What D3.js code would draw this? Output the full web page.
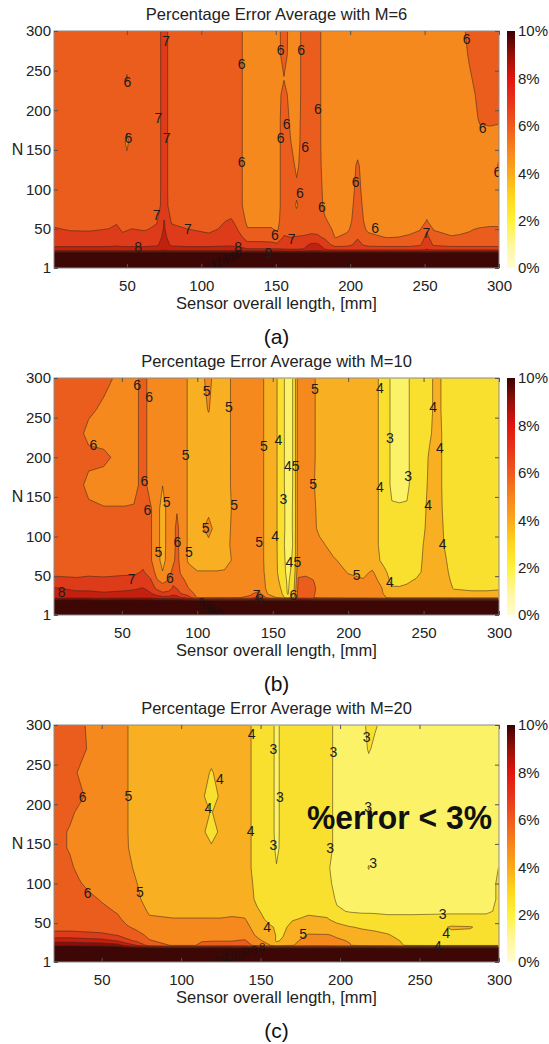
<!DOCTYPE html>
<html>
<head>
<meta charset="utf-8">
<script src="https://cdn.jsdelivr.net/npm/d3@7/dist/d3.min.js"></script>
<style>
html,body{margin:0;padding:0;background:#fff;}
svg{display:block;}
text{font-family:"Liberation Sans",Arial,Helvetica,sans-serif;}
</style>
</head>
<body>
<svg id="fig" width="549" height="1044"></svg>
<script>
// ---------- shared data ----------
const levels = [0,1,2,3,4,5,6,7,8,9,10];
const bandColors = ["#fffbd0","#fdf7a0","#fcf267","#f9df2e","#f8b022","#f6891e","#eb5d1d","#dd3b19","#c4200f","#8e0c07","#3c0705"];
const cbarStops = [[0,"#fffcd2"],[1,"#fff79a"],[2,"#fff23a"],[3,"#ffd61c"],[4,"#fbaa1a"],[5,"#f7831c"],[6,"#f05a1c"],[7,"#e83418"],[8,"#e0140e"],[9,"#961008"],[10,"#3a0202"]];
const cbarTicks = [0,2,4,6,8,10];
const xTicks = [50,100,150,200,250,300];
const yTicks = [1,50,100,150,200,250,300];
const xTitle = "Sensor overall length, [mm]";
const yTitle = "N";

// ---------- panel (a) M=6 ----------
const titleA = "Percentage Error Average with M=6";
const xA = [1,12,25,38,43,47,50,53,62,70,75,80,90,105,120,124,131,140,147,151,155.5,160,164,169,174,178,183,190,198,205,212,225,240,247,251.5,256,268,274,280,287,294,300];
const nA = [1,20,24,30,40,50,60,80,100,130,160,190,220,240,270,300];
const zA = [
[20,20,20,20,20,20,20,20,20,20,20,20,20,20,20,20,20,20,20,20,20,20,20,20,20,20,20,20,20,20,20,20,20,20,20,20,20,20,20,20,20,20],
[10.5,10.5,10.5,10.5,10.5,10.5,10.5,10.5,10.5,10.5,10.5,10.5,10.5,10.5,10.5,10.5,10.5,10.5,10.5,10.5,10.5,10.5,10.5,10.5,10.5,10.5,10.5,10.5,10.5,10.5,10.5,10.5,10.5,10.5,10.5,10.5,10.5,10.5,10.5,10.5,10.5,10.5],
[8.4,8.4,8.4,8.4,8.4,8.4,8.4,8.4,8.4,8.4, 8.8,8.4,8.4,8.4,8.4,8.4,8.2,8.2,8.2,8.2, 8.05,8.05,8.05,8.05,8.4,8.4,8.05,7.9,7.9,7.9, 7.9,7.9,7.9,7.9,8.05,7.9,7.9,7.9,7.9,7.9, 7.9,7.9],
[7.8,7.8,7.8,7.8,7.9,7.8,7.8,7.8,7.8,7.9, 8.3,7.9,7.8,7.8,7.9,7.8,7.3,7.3,7.3,7.2, 7.7,7.6,7.6,7.8,8.2,8.2,7.6,6.6,6.7,7.3, 6.7,6.6,6.6,6.9,7.7,6.9,6.6,6.6,6.6,6.6, 6.6,6.6],
[7.4,7.4,7.3,7.4,7.5,7.3,7.4,7.4,7.4,7.6, 8.2,7.6,7.4,7.2,7.5,7.4,6.6,6.6,6.5,6.3, 7.1,6.98,7.05,7.1,7.3,7.2,6.8,5.95,6.2,6.9, 6.2,5.95,6.05,6.3,7.3,6.3,6.02,6.05,6.1,6.2, 6.3,6.3],
[7.1,6.9,6.9,7.02,7.3,6.8,6.9,7.02,6.9,7.2, 8.1,7.2,7.02,6.8,7.3,7.02,6.05,6.05,6.05,5.9, 6.6,6.5,6.5,6.6,6.6,6.6,6.3,5.85,5.85,6.5, 5.85,5.85,5.9,5.95,6.8,5.95,5.9,5.9,5.95,6.05, 6.1,6.1],
[6.7,6.7,6.7,6.7,6.8,6.7,6.7,6.7,6.7,6.9, 8.05,6.9,6.7,6.7,7.1,6.8,5.8,5.8,5.8,5.7, 6.6,6.5,6.4,6.5,6.6,6.5,6.1,5.7,5.7,6.4, 5.7,5.7,5.7,5.75,6.03,5.75,5.7,5.7,5.7,5.75, 5.8,5.8],
[6.5,6.5,6.5,6.5,6.5,6.5,6.5,6.5,6.5,6.6, 7.4,6.6,6.5,6.5,6.5,6.5,5.5,5.5,5.5,5.5, 6.6,6.5,5.9,6.5,6.6,6.5,5.8,5.5,5.6,6.3, 5.6,5.5,5.5,5.5,5.75,5.5,5.5,5.5,5.5,5.5, 5.5,5.5],
[6.5,6.5,6.5,6.5,6.5,6.5,6.5,6.5,6.5,6.55, 7.4,6.55,6.5,6.5,6.5,6.5,5.5,5.5,5.5,5.5, 6.6,6.5,6.2,6.5,6.6,6.5,5.7,5.5,5.55,6.2, 5.55,5.5,5.5,5.5,5.5,5.5,5.5,5.5,5.5,5.5, 5.5,5.6],
[6.5,6.5,6.5,6.5,6.5,6.5,6.5,6.5,6.5,6.55, 7.4,6.55,6.5,6.5,6.5,6.5,5.5,5.5,5.5,5.5, 6.6,6.4,5.8,6.5,6.6,6.4,5.6,5.5,5.5,6.1, 5.5,5.5,5.5,5.5,5.5,5.5,5.5,5.5,5.5,5.5, 5.5,6.1],
[6.5,6.5,6.5,6.5,6.5,6.5,5.7,6.5,6.5,6.55, 7.4,6.55,6.5,6.5,6.5,6.5,5.5,5.5,5.5,5.5, 6.6,6.02,5.6,6.5,6.6,6.4,5.5,5.5,5.5,5.7, 5.5,5.5,5.5,5.5,5.5,5.5,5.5,5.5,5.5,5.7, 5.6,5.7],
[6.5,6.5,6.5,6.5,6.5,6.5,6.5,6.5,6.5,6.55, 7.4,6.55,6.5,6.5,6.5,6.5,5.5,5.5,5.5,5.5, 6.6,5.8,5.5,6.5,6.6,6.4,5.5,5.5,5.5,5.5, 5.5,5.5,5.5,5.5,5.5,5.5,5.5,5.5,5.5,6.1, 6.2,6.1],
[6.5,6.5,6.5,6.5,6.5,6.5,6.5,6.5,6.5,6.55, 7.4,6.55,6.5,6.5,6.5,6.5,5.5,5.5,5.5,5.5, 6.4,5.6,5.4,6.5,6.6,6.4,5.5,5.5,5.5,5.5, 5.5,5.5,5.5,5.5,5.5,5.5,5.5,5.5,5.6,6.3, 6.4,6.4],
[6.5,6.5,6.5,6.5,6.5,6.5,5.9,6.5,6.5,6.55, 7.4,6.55,6.5,6.5,6.5,6.5,5.5,5.5,5.5,5.5, 5.95,5.5,5.4,6.5,6.6,6.4,5.5,5.5,5.5,5.5, 5.5,5.5,5.5,5.5,5.5,5.5,5.5,5.5,5.85,6.4, 6.5,6.5],
[6.5,6.5,6.5,6.5,6.5,6.5,6.5,6.5,6.5,6.55, 7.4,6.55,6.5,6.5,6.5,6.5,5.5,5.5,5.5,5.5, 6.5,5.5,5.4,6.5,6.6,6.4,5.5,5.5,5.5,5.5, 5.5,5.5,5.5,5.5,5.5,5.5,5.5,5.5,6.1,6.5, 6.5,6.5],
[6.5,6.5,6.5,6.5,6.5,6.5,6.5,6.5,6.5,6.55, 7.4,6.55,6.5,6.5,6.5,6.5,5.5,5.5,5.5,5.5, 6.6,5.5,5.4,6.5,6.6,6.4,5.5,5.5,5.5,5.5, 5.5,5.5,5.5,5.5,5.5,5.5,5.5,5.5,6.4,6.5, 6.5,6.5]
];
const labelsA = [
[76.3,288,"7"],[50.3,236,"6"],[71.2,190,"7"],[51,165,"6"],[76.7,165,"7"],[127,258,"6"],[127,135,"6"],[70,68,"7"],[90.9,50,"7"],[57.6,27,"8"],[124.8,28,"8"],[145,20,"9"],
[153.3,276,"6"],[167.1,276,"6"],[178.3,202,"6"],[157.3,183,"6"],[153.3,165,"6"],[169.7,154,"6"],[203.6,110,"6"],[166.3,95,"6"],[181,78,"6"],[149.5,43,"6"],[160.7,38,"7"],[216.7,51,"6"],[251.2,45,"7"],[278.3,290,"6"],[289,177,"6"],[299,122,"6"]
];
const crowdA = [[106,4,"12"],[110,7,"11"],[114,10,"10"],[118,13,"10"],[122,16,"9"],[125,19,"9"]];

// ---------- panel (b) M=10 ----------
const titleB = "Percentage Error Average with M=10";
const xB = [5,20,28,38,52,58,64,69,73,77,81,84,86.5,89,94,100,107.5,113,118,126,135,141,147,152,156,160,164,167,172,176,181,190,200,210,216,224,229,234,239,245,250,254,259,264,270,282,292,300];
const nB = [1,19,23,28,35,45,55,70,90,110,135,165,200,230,260,300];
const zB = [
[20,20,20,20,20,20,20,20,20,20,20,20,20,20,20,20,20,20,20,20,20,20,20,20,20,20,20,20,20,20,20,20,20,20,20,20,20,20,20,20,20,20,20,20,20,20,20,20],
[10.5,10.5,10.5,10.5,10.5,10.5,10.5,10.5,10.5,10.5,10.5,10.5,10.5,10.5,10.5,10.5,10.5,10.5,10.5,10.5,10.5,10.5,10.5,10.5,10.5,10.5,10.5,10.5,10.5,10.5,10.5,10.5,10.5,10.5,10.5,10.5,10.5,10.5,10.5,10.5,10.5,10.5,10.5,10.5,10.5,10.5,10.5,10.5],
[8.7,8.7,8.7,8.6,8.7,8.7,8.8,8.7,8.5,8.3, 8.3,8.5,8.4,8.02,7.5,5.9,5.9,5.9,5.9,5.95, 6.1,7.5,5.5,5.02,4.5,3.3,5.02,6.3,6.3,6.1, 5.7,5.6,5.5,5.5,5.4,5.1,4.6,4.6,4.6,4.6, 4.6,4.6,4.6,4.5,4.5,4.4,4.4,4.4],
[8.3,8.2,8.2,8.1,8.2,8.2,8.3,8.1,7.6,7.2, 7.3,7.7,7.5,7.02,6.5,5.7,5.7,5.7,5.7,5.8, 5.9,6.2,4.9,4.3,4.05,2.9,4.02,6.5,6.4,6.2, 5.7,5.6,5.4,5.4,5.4,4.95,4.4,4.4,4.4,4.4, 4.4,4.5,4.5,4.4,4.2,4.1,4.1,4.1],
[8.05,7.8,7.8,7.7,7.8,7.9,8.02,7.6,6.8,6.4, 6.6,7.1,6.95,6.6,6.02,5.5,5.5,5.5,5.5,5.7, 5.7,5.7,4.7,4.4,3.9,2.85,3.8,6.4,6.4,6.2, 5.8,5.7,5.4,5.3,5.4,4.9,4.1,4.05,4.1,4.3, 4.3,4.4,4.4,4.35,3.95,3.9,3.9,3.95],
[7.2,7.1,7.2,7.2,7.3,7.3,7.6,7.1,6.1,5.7, 6.02,6.8,6.6,6.3,5.7,5.3,5.3,5.3,5.4,5.6, 5.6,5.7,4.6,4.3,3.7,2.8,3.6,6.1,6.2,6.05, 5.8,5.6,5.2,5.05,5.3,4.6,3.7,3.8,3.9,4.05, 4.2,4.35,4.4,4.3,3.8,3.8,3.95,3.8],
[6.8,6.8,6.8,6.7,6.8,6.8,7.1,6.6,5.7,5.05, 5.6,6.3,6.5,5.9,5.3,5.05,5.05,5.05,5.1,5.5, 5.5,5.6,4.5,4.2,3.5,2.7,3.4,5.8,5.8,5.6, 5.6,5.4,4.95,4.8,5.1,4.2,3.6,3.6,3.6,3.8, 4.1,4.3,4.4,4.2,3.7,3.6,3.8,3.7],
[6.5,6.5,6.5,6.5,6.5,6.5,6.7,6.1,5.5,4.6, 5.5,5.8,6.3,5.7,4.9,4.6,4.6,4.6,4.6,5.3, 5.5,5.5,4.5,4.2,3.4,2.65,3.2,5.6,5.6,5.4, 5.5,5.1,4.7,4.6,4.5,3.7,3.5,3.5,3.5,3.6, 4.1,4.3,4.4,4.1,3.6,3.5,3.5,3.6],
[6.4,6.4,6.4,6.4,6.4,6.4,6.4,6.1,5.5,4.5, 5.5,5.6,6.3,5.6,4.9,4.5,4.7,4.5,4.6,5.5, 5.5,5.5,4.5,4.2,3.3,2.6,3.1,5.6,5.6,5.3, 5.2,4.7,4.5,4.5,4.4,3.6,3.5,3.5,3.5,3.6, 4.02,4.3,4.4,3.95,3.6,3.5,3.5,3.6],
[6.4,6.4,6.4,6.4,6.4,6.4,6.4,6.1,5.5,4.5, 5.5,5.6,6.3,5.6,4.9,4.5,5.4,4.5,4.6,5.4, 5.5,5.5,4.5,4.2,3.3,2.7,3.1,5.6,5.6,5.3, 4.8,4.5,4.5,4.5,4.4,3.6,3.5,3.5,3.5,3.6, 3.9,4.3,4.4,3.9,3.6,3.5,3.5,3.6],
[6.4,6.4,6.2,6.05,6.05,6.1,6.4,6.1,5.5,4.5, 5.5,5.6,5.9,5.6,4.9,4.5,4.7,4.5,4.6,5.3, 5.5,5.5,4.5,4.2,3.3,2.7,3.1,5.6,5.6,5.3, 4.7,4.5,4.5,4.5,4.4,3.6,3.1,3.1,3.1,3.6, 3.8,4.3,4.4,3.8,3.6,3.5,3.5,3.6],
[6.4,6.4,5.7,5.6,5.6,5.6,6.4,5.6,5.5,5.02, 5.5,5.6,5.6,5.6,4.9,4.5,4.5,4.5,4.5,5.5, 5.5,5.5,4.5,4.2,3.3,2.6,3.1,5.6,5.6,5.2, 4.6,4.5,4.5,4.5,4.4,3.6,2.8,2.7,2.8,3.6, 3.7,4.2,4.3,3.8,3.6,3.5,3.5,3.6],
[6.4,6.4,6.3,6.2,5.6,5.6,6.4,5.6,5.5,5.5, 5.5,5.6,5.6,5.6,4.9,4.5,4.5,4.5,4.5,5.5, 5.5,5.5,4.5,4.2,3.3,2.6,3.1,5.6,5.6,5.3, 4.6,4.5,4.5,4.5,4.4,3.6,2.8,2.7,2.8,3.6, 3.7,4.1,4.3,3.8,3.6,3.5,3.5,3.6],
[6.4,6.4,5.7,5.6,5.6,5.6,6.4,5.6,5.5,5.5, 5.5,5.6,5.6,5.6,4.9,4.5,4.6,4.5,4.5,5.5, 5.5,5.5,4.5,4.2,3.3,2.6,3.1,5.6,5.6,5.3, 4.6,4.5,4.5,4.5,4.4,3.6,2.8,2.7,2.8,3.6, 3.7,3.9,4.3,3.8,3.6,3.5,3.5,3.6],
[6.4,6.4,6.2,5.8,5.6,5.6,6.4,5.6,5.5,5.5, 5.5,5.6,5.6,5.6,4.9,4.5,5.05,4.5,4.5,5.5, 5.5,5.5,4.5,4.2,3.3,2.6,3.1,5.6,5.6,5.3, 4.6,4.5,4.5,4.5,4.4,3.6,2.8,2.7,2.8,3.6, 3.7,3.8,4.3,3.7,3.6,3.5,3.5,3.6],
[6.4,6.4,6.4,6.3,5.6,5.6,6.4,5.6,5.5,5.5, 5.5,5.6,5.6,5.6,4.9,4.5,5.3,4.5,4.5,5.5, 5.5,5.5,4.5,4.2,3.3,2.6,3.1,5.6,5.6,5.3, 4.6,4.5,4.5,4.5,4.4,3.6,2.8,2.7,2.8,3.6, 3.7,3.8,4.3,3.7,3.6,3.5,3.5,3.6]
];
const labelsB = [
[60.2,291,"6"],[68.1,276,"6"],[106.2,283,"5"],[121,263,"5"],[31.1,216,"6"],[92.3,203,"5"],[144.2,214,"5"],[65,170,"6"],[79.7,143,"5"],[124.5,140,"5"],[66.9,134,"6"],[105.6,111,"5"],[86.8,93,"6"],[74.2,80,"5"],[94.5,81,"5"],[141,93,"5"],[81.9,48,"6"],[56.5,46,"7"],[10.1,30,"8"],[139.4,26,"7"],[141.5,21,"8"],
[177.9,286,"5"],[221,287,"4"],[256.4,264,"4"],[227.7,224,"3"],[153.8,222,"4"],[260.8,212,"4"],[162.6,189,"45"],[239.8,176,"3"],[176.8,166,"5"],[221,163,"4"],[157.1,147,"3"],[253.1,140,"4"],[151.6,101,"4"],[262.6,90,"4"],[163.7,68,"45"],[205.6,51,"5"],[227.7,43,"4"],[163.7,26,"6"]
];
const crowdB = [[103,18,"9"],[106,14,"10"],[109,10,"11"],[111,6,"12"],[113,3,"13"]];

// ---------- panel (c) M=20 ----------
const titleC = "Percentage Error Average with M=20";
const xC = [20,30,36,42,50,60,66,72,80,95,108,113,119,125,132,140,148,156,160,164,170,180,192,198,206,214,218,222,230,245,260,270,282,292,300];
const nC = [1,18,22,28,35,45,55,65,80,100,120,145,165,190,210,240,270,300];
const zC = [
[20,20,20,20,20,20,20,20,20,20,20,20,20,20,20,20,20,20,20,20,20,20,20,20,20,20,20,20,20,20,20,20,20,20,20],
[11,11,11,11,11,11,11,11,11,11,11,11,11,11,11,11,11,11,11,11,11,11,11,11,11,11,11,11,11,11,11,11,11,11,11],
[9.8,9.8,9.8,9.7,9.7,9.4,8.6,8.0,6.6,5.9, 5.9,6.3,6.35,6.4,6.4,6.5,5.6,5.02,4.3,4.5, 4.95,5.4,5.3,5.1,5.05,4.6,4.55,4.5,4.4,3.8, 3.7,3.75,3.75,3.75,3.75],
[8.6,8.6,8.5,8.4,8.3,7.9,7.2,6.8,6.05,5.7, 5.7,5.9,5.95,5.95,5.95,6.1,5.2,4.6,3.9,4.1, 4.8,5.3,5.2,5.1,4.95,4.5,4.45,4.4,4.3,3.7, 3.6,3.6,3.6,3.6,3.6],
[7.4,7.4,7.35,7.3,7.2,6.95,6.6,6.3,5.8,5.5, 5.5,5.6,5.6,5.6,5.6,5.5,4.85,4.3,3.95,3.95, 4.5,5.05,5.05,4.9,4.5,4.3,4.25,4.2,4.05,3.6, 3.7,3.8,3.8,3.7,3.65],
[6.6,6.6,6.55,6.5,6.5,6.4,6.1,5.8,5.4,5.3, 5.3,5.3,5.3,5.3,5.4,5.3,4.6,4.1,3.9,3.85, 4.2,4.6,4.4,4.3,4.05,3.9,3.85,3.8,3.7,3.4, 3.7,4.1,4.05,3.7,3.6],
[6.4,6.4,6.4,6.4,6.4,6.2,5.7,5.5,5.1,5.05, 5.05,5.05,5.05,5.05,5.1,5.05,4.3,3.75,3.8,3.7, 3.95,4.1,4.05,3.7,3.4,3.3,3.3,3.25,3.2,3.2, 3.25,3.3,3.3,3.2,3.3],
[6.4,6.4,6.4,6.4,6.3,5.9,5.6,5.4,4.9,4.7, 4.7,4.7,4.7,4.7,4.8,4.7,4.1,3.6,3.7,3.6, 3.7,3.9,3.8,3.1,2.95,2.9,2.9,2.9,2.85,2.85, 2.85,2.85,2.85,2.9,3.1],
[6.4,6.4,6.4,6.3,5.9,5.5,5.5,5.2,4.6,4.5, 4.5,4.5,4.5,4.5,4.5,4.55,3.8,3.5,3.5,3.5, 3.5,3.5,3.4,2.9,2.7,2.6,2.6,2.6,2.6,2.6, 2.6,2.6,2.6,2.7,3.1],
[6.4,6.4,6.1,5.7,5.5,5.5,5.4,5.02,4.55,4.5, 4.5,4.5,4.5,4.5,4.5,4.5,3.7,3.5,3.3,3.4, 3.5,3.5,3.2,2.75,2.6,2.6,2.6,2.6,2.6,2.6, 2.6,2.6,2.6,2.7,3.1],
[6.4,6.2,5.7,5.5,5.5,5.5,5.2,4.85,4.5,4.5, 4.5,4.5,4.5,4.5,4.5,4.5,3.5,3.5,3.05,3.3, 3.5,3.5,3.1,2.7,2.6,2.6,3.05,2.6,2.6,2.6, 2.6,2.6,2.6,2.6,3.02],
[6.4,5.9,5.6,5.5,5.5,5.5,5.05,4.7,4.5,4.5, 4.5,4.4,4.2,4.4,4.5,4.5,3.5,3.5,2.8,3.3, 3.5,3.5,3.5,2.6,2.6,2.6,2.6,2.6,2.6,2.6, 2.6,2.6,2.6,2.6,2.7],
[6.4,5.9,5.6,5.5,5.5,5.5,5.05,4.5,4.5,4.5, 4.5,4.3,3.4,4.3,4.5,4.5,3.5,3.5,2.7,3.4, 3.5,3.5,3.5,2.6,2.6,2.6,2.7,2.6,2.6,2.6, 2.6,2.6,2.6,2.6,2.6],
[6.4,6.2,5.8,5.6,5.5,5.5,5.05,4.5,4.5,4.5, 4.5,4.3,3.95,4.4,4.5,4.5,3.5,3.5,2.7,3.4, 3.5,3.5,3.5,2.6,2.6,2.6,3.1,2.6,2.6,2.6, 2.6,2.6,2.6,2.6,2.6],
[6.4,6.4,6.2,5.8,5.5,5.5,5.05,4.5,4.5,4.5, 4.5,4.3,3.2,4.3,4.5,4.5,3.5,3.5,2.7,3.4, 3.5,3.5,3.5,2.6,2.6,2.6,2.7,2.6,2.6,2.6, 2.6,2.6,2.6,2.6,2.6],
[6.4,6.3,5.9,5.6,5.5,5.5,5.05,4.5,4.5,4.5, 4.5,4.4,3.9,4.4,4.5,4.5,3.5,3.5,2.7,3.4, 3.5,3.5,3.5,2.6,2.6,2.6,2.6,2.6,2.6,2.6, 2.6,2.6,2.6,2.6,2.6],
[6.4,6.4,6.3,5.9,5.5,5.5,5.05,4.5,4.5,4.5, 4.5,4.5,4.5,4.5,4.5,4.5,3.5,3.5,2.7,3.4, 3.5,3.5,3.5,2.6,2.6,2.6,3.1,2.8,2.6,2.6, 2.6,2.6,2.6,2.6,2.6],
[6.4,6.4,6.3,5.8,5.5,5.5,5.05,4.5,4.5,4.5, 4.5,4.5,4.5,4.5,4.5,4.5,3.5,3.5,2.7,3.4, 3.5,3.5,3.5,2.6,2.6,2.6,3.4,3.1,2.6,2.6, 2.6,2.6,2.6,2.6,2.6]
];
const labelsC = [
[144.4,289,"4"],[124.4,232,"4"],[38,209,"6"],[66.8,210,"5"],[117.1,195,"4"],[143.8,166,"4"],[41.2,88,"6"],[74.1,89,"5"],[154.1,45,"4"],
[158,270,"3"],[195.8,266,"3"],[216.7,285,"3"],[162.2,209,"3"],[217.7,197,"3"],[158,149,"3"],[193.7,145,"3"],[220.8,126,"3"],[264.6,61,"3"],[176.8,36,"5"],[266.8,37,"4"],[261.5,21,"4"]
];
const crowdC = [[124,4,"11"],[130,7,"11"],[136,10,"10"],[141,13,"9"],[146,16,"8"],[151,20,"8"]];
const noteC = "%error < 3%";

// ---------- drawing ----------
const svg = d3.select("#fig");
const defs = svg.append("defs");
const grad = defs.append("linearGradient").attr("id","cbarGrad")
  .attr("x1",0).attr("y1",1).attr("x2",0).attr("y2",0);
grad.selectAll("stop").data(cbarStops).join("stop")
  .attr("offset",d=>d[0]/10).attr("stop-color",d=>d[1]);

const panels = [
  {title:titleA, tag:"(a)", xs:xA, ns:nA, z:zA, labels:labelsA, crowd:crowdA},
  {title:titleB, tag:"(b)", xs:xB, ns:nB, z:zB, labels:labelsB, crowd:crowdB},
  {title:titleC, tag:"(c)", xs:xC, ns:nC, z:zC, labels:labelsC, crowd:crowdC, note:noteC}
];

const TXT = "#222";
panels.forEach((p,k)=>{
  const off = k*347;
  const L = 54, R = 499, T = 31+off, B = 268+off;
  const cx = (L+R)/2;
  const x = d3.scaleLinear().domain([p.xs[0],300]).range([L,R]);
  const y = d3.scaleLinear().domain([1,300]).range([B,T]);
  const nx = p.xs.length, ny = p.ns.length;
  const gx = d3.scaleLinear().domain(p.xs.map((d,i)=>i+0.5)).range(p.xs).clamp(true);
  const gy = d3.scaleLinear().domain(p.ns.map((d,i)=>i+0.5)).range(p.ns).clamp(true);
  const values = p.z.flat();
  const contours = d3.contours().size([nx,ny]).thresholds(levels)(values);
  const proj = d3.geoTransform({point(a,b){ this.stream.point(x(gx(a)), y(gy(b))); }});
  const path = d3.geoPath(proj);

  defs.append("clipPath").attr("id","clipO"+k).append("rect")
    .attr("x",L).attr("y",T).attr("width",R-L).attr("height",B-T);
  defs.append("clipPath").attr("id","clipI"+k).append("rect")
    .attr("x",L+1).attr("y",T+1).attr("width",R-L-2).attr("height",B-T-2);

  const gf = svg.append("g").attr("clip-path",`url(#clipO${k})`);
  gf.selectAll("path").data(contours).join("path")
    .attr("d",path)
    .attr("fill",d=>bandColors[Math.min(d.value,10)])
    .attr("stroke",d=>bandColors[Math.min(d.value,10)])
    .attr("stroke-width",0.3);

  const gl = svg.append("g").attr("clip-path",`url(#clipI${k})`);
  gl.selectAll("path").data(contours.filter(d=>d.value>=1)).join("path")
    .attr("d",path)
    .attr("fill","none")
    .attr("stroke","#3a2a1a")
    .attr("stroke-opacity",0.7)
    .attr("stroke-width",0.75);

  // contour labels
  const gt = svg.append("g").attr("clip-path",`url(#clipO${k})`);
  gt.selectAll("text.cl").data(p.labels).join("text").attr("class","cl")
    .attr("x",d=>x(d[0])).attr("y",d=>y(d[1]))
    .attr("text-anchor","middle").attr("dominant-baseline","central")
    .attr("font-size",14).attr("fill","#1c1c1c").text(d=>d[2]);
  gt.selectAll("text.cr").data(p.crowd).join("text").attr("class","cr")
    .attr("x",d=>x(d[0])).attr("y",d=>y(d[1]))
    .attr("text-anchor","middle").attr("dominant-baseline","central")
    .attr("font-size",11).attr("fill","#1a1010").attr("opacity",0.85).text(d=>d[2]);

  if(p.note){
    svg.append("text").attr("x",307).attr("y",829)
      .attr("font-family","Lato, 'Open Sans', sans-serif").attr("font-weight",700)
      .attr("font-size",34).attr("fill","#111")
      .attr("textLength",185).attr("lengthAdjust","spacingAndGlyphs")
      .text(p.note);
  }

  // frame
  svg.append("rect").attr("x",L).attr("y",T).attr("width",R-L).attr("height",B-T)
    .attr("fill","none").attr("stroke","#8a8a8a").attr("stroke-width",1);

  // axes
  const styleAxis = g=>{
    g.select(".domain").remove();
    g.selectAll(".tick line").attr("stroke","#555");
    g.selectAll(".tick text").attr("font-size",15).attr("fill",TXT)
      .attr("font-family","'Liberation Sans',Arial,sans-serif");
  };
  svg.append("g").attr("transform",`translate(0,${B})`)
    .call(d3.axisBottom(x).tickValues(xTicks).tickSizeInner(-4).tickSizeOuter(0).tickPadding(12.5))
    .call(styleAxis);
  svg.append("g").attr("transform",`translate(0,${T})`)
    .call(d3.axisTop(x).tickValues(xTicks).tickSizeInner(-4).tickSizeOuter(0).tickFormat(""))
    .call(styleAxis);
  svg.append("g").attr("transform",`translate(${L},0)`)
    .call(d3.axisLeft(y).tickValues(yTicks).tickSizeInner(-4).tickSizeOuter(0).tickPadding(3))
    .call(styleAxis);
  svg.append("g").attr("transform",`translate(${R},0)`)
    .call(d3.axisRight(y).tickValues(yTicks).tickSizeInner(-4).tickSizeOuter(0).tickFormat(""))
    .call(styleAxis);

  // colorbar
  const cbX = 507, cbW = 8;
  const cb = d3.scaleLinear().domain([0,10]).range([B,T]);
  svg.append("rect").attr("x",cbX).attr("y",T).attr("width",cbW).attr("height",B-T)
    .attr("fill","url(#cbarGrad)");
  svg.append("g").attr("transform",`translate(${cbX+cbW},0)`)
    .call(d3.axisRight(cb).tickValues(cbarTicks).tickSize(0).tickPadding(3).tickFormat(d=>d+"%"))
    .call(styleAxis);

  // titles
  svg.append("text").attr("x",cx).attr("y",14+off).attr("text-anchor","middle")
    .attr("dominant-baseline","central").attr("font-size",16.5).attr("fill",TXT).text(p.title);
  svg.append("text").attr("x",cx).attr("y",303+off).attr("text-anchor","middle")
    .attr("dominant-baseline","central").attr("font-size",16.5).attr("fill",TXT).text(xTitle);
  svg.append("text").attr("x",17.5).attr("y",(T+B)/2).attr("text-anchor","middle")
    .attr("dominant-baseline","central").attr("font-size",16).attr("fill",TXT).text(yTitle);
  svg.append("text").attr("x",cx).attr("y",336+off).attr("text-anchor","middle")
    .attr("dominant-baseline","central").attr("font-size",21).attr("fill","#111")
    .attr("font-family","'Liberation Serif','Times New Roman',serif").text(p.tag);
});
</script>
</body>
</html>
